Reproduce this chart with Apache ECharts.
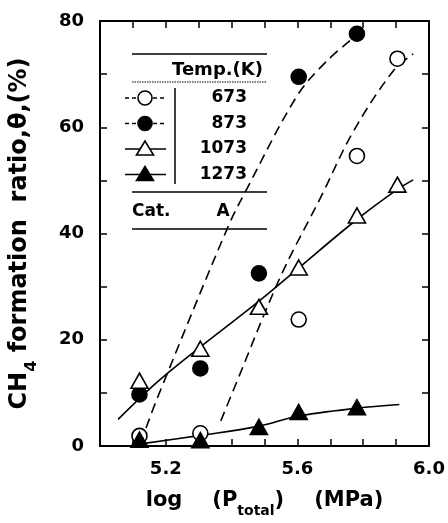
<!DOCTYPE html>
<html><head><meta charset="utf-8">
<script src="https://cdn.jsdelivr.net/npm/echarts@6/dist/echarts.min.js"></script>
<style>html,body{margin:0;padding:0;background:#fff}#c{width:448px;height:523px}</style>
</head><body><div id="c"></div>
<script>
// ---- data ----
const temps = ['673', '873', '1073', '1273'];
const logP = [5.12, 5.305, 5.483, 5.604, 5.781, 5.904];
const theta673 = [1.9, 2.4, null, 23.8, 54.6, 72.9];
const theta873 = [9.7, 14.6, 32.5, 69.5, 77.6, null];
const theta1073 = [12.3, 18.3, 26.2, 33.6, 43.4, 49.2];
const theta1273 = [1.2, 1.1, 3.6, 6.4, 7.3, null];
// fitted curves
const fit673 = [[5.367, 4.7], [5.406, 10.6], [5.548, 31.8], [5.67, 46.7], [5.77, 59.2], [5.89, 70.5], [5.952, 73.8]];
const fit873 = [[5.14, 3.4], [5.176, 9.3], [5.388, 41.1], [5.448, 48.6], [5.60, 66.0], [5.69, 72.5], [5.78, 77.3]];
const fit1073 = [[5.055, 5.0], [5.194, 13.1], [5.488, 27.5], [5.60, 33.3], [5.776, 42.4], [5.904, 48.3], [5.952, 50.1]];
const fit1273 = [[5.124, 0.4], [5.306, 2.0], [5.48, 3.7], [5.60, 5.6], [5.78, 7.1], [5.91, 7.8]];
const xTickLabels = ['5.2', '5.6', '6.0'];
const yTickLabels = ['0', '20', '40', '60', '80'];

// ---- chart ----
const FONT = 'DejaVu Sans';
const chart = echarts.init(document.getElementById('c'), null, {renderer: 'canvas'});
const pairs = vals => logP.map((x, i) => vals[i] == null ? null : [x, vals[i]]).filter(d => d);

const markerStyles = [
  {symbol: 'circle', size: 15, fill: '#fff'},
  {symbol: 'circle', size: 15, fill: '#000'},
  {symbol: 'triangle', size: [17, 15], fill: '#fff'},
  {symbol: 'triangle', size: [17, 15], fill: '#000'}
];
const markerData = [theta673, theta873, theta1073, theta1273];
const fits = [fit673, fit873, fit1073, fit1273];
const dashed = [true, true, false, false];

const series = [];
fits.forEach((f, i) => {
  series.push({
    type: 'line', data: f, smooth: 0.35, showSymbol: false, symbol: 'none',
    lineStyle: {color: '#000', width: 1.6, type: dashed[i] ? [10, 6] : 'solid'},
    silent: true, z: 2
  });
});
markerData.forEach((vals, i) => {
  const m = markerStyles[i];
  series.push({
    type: 'scatter', name: temps[i], data: pairs(vals), symbol: m.symbol, symbolSize: m.size,
    itemStyle: {color: m.fill, borderColor: '#000', borderWidth: 1.6, opacity: 1},
    z: 5 + i
  });
});

const axisLine = {show: true, onZero: false, lineStyle: {color: '#000', width: 2}};
const axisTick = {show: true, inside: true, length: 7, lineStyle: {color: '#000', width: 1.5}};
const labelFont = {color: '#000', fontFamily: FONT, fontWeight: 'bold', fontSize: 18};

// legend table
const L = [];
const hline = (y, dash) => ({type: 'line', shape: {x1: 132, y1: y, x2: 267, y2: y},
  style: {stroke: '#000', lineWidth: dash ? 1.2 : 1.5, lineDash: dash || null}, z: 20});
L.push(hline(54));
L.push({type: 'text', x: 263, y: 70, style: {text: 'Temp.(K)', align: 'right', verticalAlign: 'middle',
  font: 'bold 18px "' + FONT + '"', fill: '#000'}, z: 20});
L.push(hline(82, [1.5, 1]));
L.push({type: 'line', shape: {x1: 175, y1: 88, x2: 175, y2: 184}, style: {stroke: '#000', lineWidth: 1.5}, z: 20});
temps.forEach((t, i) => {
  const y = 98 + i * 25.5;
  L.push({type: 'line', shape: {x1: 125, y1: y, x2: 166, y2: y},
    style: {stroke: '#000', lineWidth: 1.5, lineDash: dashed[i] ? [4, 3] : null}, z: 20});
  if (markerStyles[i].symbol === 'circle') {
    L.push({type: 'circle', shape: {cx: 145, cy: y, r: 7}, style: {fill: markerStyles[i].fill, stroke: '#000', lineWidth: 1.6}, z: 21});
  } else {
    L.push({type: 'polygon', shape: {points: [[145, y - 8], [136.5, y + 6], [153.5, y + 6]]},
      style: {fill: markerStyles[i].fill, stroke: '#000', lineWidth: 1.6}, z: 21});
  }
  L.push({type: 'text', x: 247, y: y, style: {text: t, align: 'right', verticalAlign: 'middle',
    font: 'bold 17px "' + FONT + '"', fill: '#000'}, z: 20});
});
L.push(hline(192));
L.push({type: 'text', x: 132, y: 212, style: {text: 'Cat.', align: 'left', verticalAlign: 'middle',
  font: 'bold 17px "' + FONT + '"', fill: '#000'}, z: 20});
L.push({type: 'text', x: 223, y: 212, style: {text: 'A', align: 'center', verticalAlign: 'middle',
  font: 'bold 17px "' + FONT + '"', fill: '#000'}, z: 20});
L.push(hline(229));

const option = {
  backgroundColor: '#fff',
  animation: false,
  grid: {left: 99, right: 19, top: 21, bottom: 73, containLabel: false},
  xAxis: [{
    type: 'value', min: 5.0, max: 6.0, interval: 0.1, position: 'bottom',
    axisLine, axisTick, splitLine: {show: false},
    axisLabel: Object.assign({}, labelFont, {margin: 14, showMinLabel: true, showMaxLabel: true,
      formatter: v => { const s = (Math.round(v * 10) / 10).toFixed(1); return xTickLabels.includes(s) ? s : ''; }}),
    name: '{m|log}{g|}{m|(P}{s|total}{m|)}{g|}{m|(MPa)}',
    nameLocation: 'middle', nameGap: 44,
    nameTextStyle: {
      rich: {
        m: {fontFamily: FONT, fontWeight: 'bold', fontSize: 21, color: '#000', lineHeight: 24, verticalAlign: 'top'},
        s: {fontFamily: FONT, fontWeight: 'bold', fontSize: 14, color: '#000', lineHeight: 14, padding: [14, 0, 0, 0], verticalAlign: 'top'},
        g: {width: 30, fontSize: 21, lineHeight: 24, verticalAlign: 'top'}
      }
    }
  }, {
    type: 'value', min: 5.0, max: 6.0, interval: 0.1, position: 'top',
    axisLine, axisTick, axisLabel: {show: false}, splitLine: {show: false}
  }],
  yAxis: [{
    type: 'value', min: 0, max: 80, interval: 10, position: 'left',
    axisLine, axisTick, splitLine: {show: false},
    axisLabel: Object.assign({}, labelFont, {margin: 16,
      formatter: v => { const s = String(Math.round(v)); return yTickLabels.includes(s) ? s : ''; }}),
    name: '{m|CH}{s|4}{m| formation  ratio,θ,(%)}',
    nameLocation: 'middle', nameGap: 64, nameRotate: 90,
    nameTextStyle: {
      rich: {
        m: {fontFamily: FONT, fontWeight: 'bold', fontSize: 24, color: '#000', lineHeight: 28, verticalAlign: 'top'},
        s: {fontFamily: FONT, fontWeight: 'bold', fontSize: 16, color: '#000', lineHeight: 16, padding: [16, 0, 0, 0], verticalAlign: 'top'}
      }
    }
  }, {
    type: 'value', min: 0, max: 80, interval: 10, position: 'right',
    axisLine, axisTick, axisLabel: {show: false}, splitLine: {show: false}
  }],
  graphic: L,
  series
};
chart.setOption(option);
</script></body></html>
